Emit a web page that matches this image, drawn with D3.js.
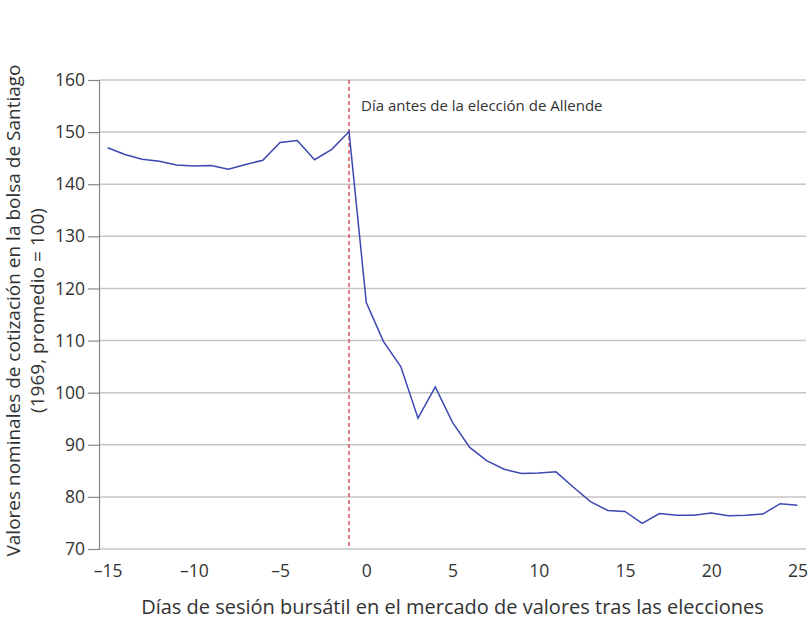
<!DOCTYPE html>
<html>
<head>
<meta charset="utf-8">
<script src="https://cdn.jsdelivr.net/npm/d3@7"></script>
<style>
  body { margin: 0; background: #fff; }
  text { font-family: "Open Sans", "Noto Sans", sans-serif; fill: #333; }
</style>
</head>
<body>
<div id="chart"></div>
<script>
// trading days relative to the election, and the index value
var days = [-15, -14, -13, -12, -11, -10, -9, -8, -7, -6, -5, -4, -3, -2, -1,
            0, 1, 2, 3, 4, 5, 6, 7, 8, 9, 10, 11, 12, 13, 14, 15, 16, 17, 18, 19, 20, 21, 22, 23, 24, 25];
var values = [147.0, 145.7, 144.8, 144.4, 143.7, 143.5, 143.6, 142.9, 143.8, 144.6, 148.0, 148.4, 144.7, 146.7, 150.1,
              117.3, 109.8, 105.0, 95.1, 101.1, 94.3, 89.5, 86.9, 85.3, 84.5, 84.6, 84.8, 81.9, 79.1, 77.4,
              77.2, 74.9, 76.8, 76.5, 76.5, 76.9, 76.4, 76.5, 76.7, 78.7, 78.4];
var xTicks = [-15, -10, -5, 0, 5, 10, 15, 20, 25];
var yTicks = [70, 80, 90, 100, 110, 120, 130, 140, 150, 160];
var electionDay = -1;
var markerLabel = "Día antes de la elección de Allende";

var width = 810, height = 621;
var margin = {top: 80, right: 4, bottom: 72, left: 99};

var svg = d3.select("#chart").append("svg")
    .attr("width", width)
    .attr("height", height);

var x = d3.scaleLinear()
    .domain([-15.5, 25.5])
    .range([margin.left, width - margin.right]);

var y = d3.scaleLinear()
    .domain([70, 160])
    .range([height - margin.bottom, margin.top]);

// gridlines
svg.append("g")
  .selectAll("line")
  .data(yTicks)
  .enter().append("line")
    .attr("x1", margin.left)
    .attr("x2", width - margin.right)
    .attr("y1", d => y(d))
    .attr("y2", d => y(d))
    .attr("stroke", "#c6c6c6")
    .attr("stroke-width", 1.5);

// y axis
var yAxis = svg.append("g")
    .attr("transform", "translate(" + margin.left + ",0)")
    .call(d3.axisLeft(y).tickValues(yTicks).tickSize(11).tickPadding(3));
yAxis.select(".domain").attr("stroke", "#888").attr("stroke-width", 1.2);
yAxis.selectAll(".tick line").attr("stroke", "#888").attr("stroke-width", 1.2);
yAxis.selectAll("text").style("font-size", "17.5px").attr("fill", "#333");

// x axis (labels only)
var xAxis = svg.append("g")
    .attr("transform", "translate(0," + y(70) + ")")
    .call(d3.axisBottom(x).tickValues(xTicks).tickSize(0).tickPadding(16)
      .tickFormat(d => d < 0 ? "\u2013" + Math.abs(d) : d));
xAxis.select(".domain").remove();
xAxis.selectAll("text").style("font-size", "17.5px").attr("fill", "#333");

// election marker
svg.append("line")
    .attr("x1", x(electionDay))
    .attr("x2", x(electionDay))
    .attr("y1", y(160))
    .attr("y2", y(70))
    .attr("stroke", "#e0505a")
    .attr("stroke-width", 1.5)
    .attr("stroke-dasharray", "4,3");

svg.append("text")
    .attr("x", x(electionDay) + 12)
    .attr("y", y(155) + 5)
    .style("font-size", "15px")
    .text(markerLabel);

// the series
var line = d3.line()
    .x((d, i) => x(days[i]))
    .y(d => y(d));

svg.append("path")
    .datum(values)
    .attr("d", line)
    .attr("fill", "none")
    .attr("stroke", "#3b48b0")
    .attr("stroke-width", 1.5);

// axis titles
svg.append("text")
    .attr("x", (margin.left + width - margin.right) / 2)
    .attr("y", 614)
    .attr("text-anchor", "middle")
    .style("font-size", "20px")
    .text("Días de sesión bursátil en el mercado de valores tras las elecciones");

var yt = svg.append("text")
    .attr("transform", "translate(20," + (y(115) - 4) + ") rotate(-90)")
    .attr("text-anchor", "middle")
    .style("font-size", "19px");
yt.append("tspan").attr("x", 0).attr("dy", 0)
    .text("Valores nominales de cotización en la bolsa de Santiago");
yt.append("tspan").attr("x", 0).attr("dy", 24)
    .text("(1969, promedio = 100)");
</script>
</body>
</html>
